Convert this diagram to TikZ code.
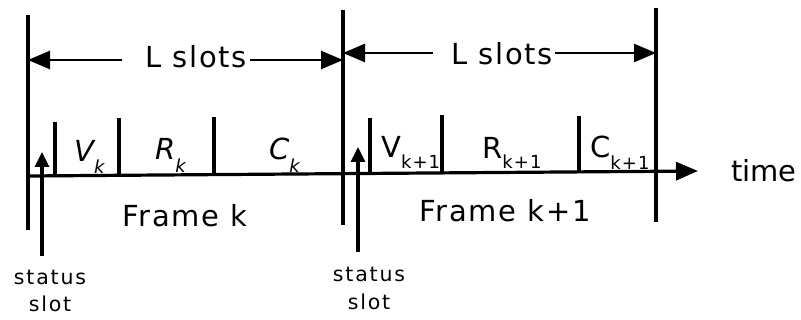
\documentclass[tikz,border=0pt]{standalone}
\usepackage{fontspec}
\setmainfont{DejaVu Sans}[LetterSpace=6]
\newfontfamily\smallfam{DejaVu Sans}[LetterSpace=9]
\newfontfamily\plainfam{DejaVu Sans}
\usetikzlibrary{arrows.meta}
\begin{document}
\begin{tikzpicture}[x=1pt,y=-1pt,
  line/.style={line width=3.2pt},
  big/.style={font=\fontsize{29}{29}\selectfont, inner sep=0pt, anchor=base},
  small/.style={font=\smallfam\fontsize{20.5}{20.5}\selectfont, inner sep=0pt, anchor=base},
  tipr/.style={-{Triangle[length=22pt,width=18pt]}},
  stip/.style={-{Triangle[length=15pt,width=14pt]}}]
\useasboundingbox (0,0) rectangle (801,320);
% frame boundaries
\coordinate (v1t) at (28,15);  \coordinate (v1b) at (28,230);
\coordinate (v2t) at (343,10); \coordinate (v2b) at (343,225);
\coordinate (v3t) at (656,8);  \coordinate (v3b) at (656,222);
\draw[line] (v1t) -- (v1b);
\draw[line] (v2t) -- (v2b);
\draw[line] (v3t) -- (v3b);
% time axis
\coordinate (ax0) at (27,176); \coordinate (ax1) at (698,171);
\draw[line,tipr] (ax0) -- (ax1);
\node[big, font=\plainfam\fontsize{29}{29}\selectfont, anchor=base west] (time) at (731,182) {time};
% slot ticks
\coordinate (k1t) at (55,122);  \coordinate (k1b) at (55,176);
\coordinate (k2t) at (119,118); \coordinate (k2b) at (119,175);
\coordinate (k3t) at (214,117); \coordinate (k3b) at (214,174);
\coordinate (k4t) at (370,118); \coordinate (k4b) at (370,172);
\coordinate (k5t) at (442,115); \coordinate (k5b) at (442,172);
\coordinate (k6t) at (579,116); \coordinate (k6b) at (579,172);
\foreach \i in {1,...,6} {\draw[line] (k\i t) -- (k\i b);}
% slot labels
\node[big, anchor=base west] (Vk) at (74,162) {\itshape V\raisebox{-12pt}{\fontsize{18}{18}\selectfont k}};
\node[big, anchor=base west] (Rk) at (155,160) {\itshape R\raisebox{-13pt}{\fontsize{18}{18}\selectfont k}};
\node[big, anchor=base west] (Ck) at (269,160) {\itshape C\raisebox{-13pt}{\fontsize{18}{18}\selectfont k}};
\node[big, anchor=base west] (Vk1) at (381,158) {V\raisebox{-11pt}{\fontsize{18}{18}\selectfont k+1}};
\node[big, anchor=base west] (Rk1) at (482,159) {R\raisebox{-10pt}{\fontsize{18}{18}\selectfont k+1}};
\node[big, anchor=base west] (Ck1) at (590,158) {C\raisebox{-12pt}{\fontsize{18}{18}\selectfont k+1}};
% frame labels
\node[big] (fk) at (185,227) {Frame k};
\node[big] (fk1) at (505,222) {Frame k+1};
% L slots arrows
\node[big] (L1) at (196,68) {L slots};
\node[big] (L2) at (502,65) {L slots};
\coordinate (a1l) at (122,60); \coordinate (a1r) at (250,60);
\coordinate (e1l) at (28,60);  \coordinate (e1r) at (343,60);
\draw[line width=2.6pt,tipr] (a1l) -- (e1l);
\draw[line width=2.6pt,tipr] (a1r) -- (e1r);
\coordinate (a2l) at (433,53); \coordinate (a2r) at (555,53);
\coordinate (e2l) at (343,53); \coordinate (e2r) at (656,53);
\draw[line width=2.6pt,tipr] (a2l) -- (e2l);
\draw[line width=2.6pt,tipr] (a2r) -- (e2r);
% status slots
\coordinate (s1b) at (42,256); \coordinate (s1t) at (42,152);
\coordinate (s2b) at (358,252); \coordinate (s2t) at (358,147);
\draw[line,stip] (s1b) -- (s1t);
\draw[line,stip] (s2b) -- (s2t);
\node[small] (st1) at (50,285) {status};
\node[small] (sl1) at (50,312) {slot};
\node[small] (st2) at (369,282) {status};
\node[small] (sl2) at (369,310) {slot};
\end{tikzpicture}
\end{document}
